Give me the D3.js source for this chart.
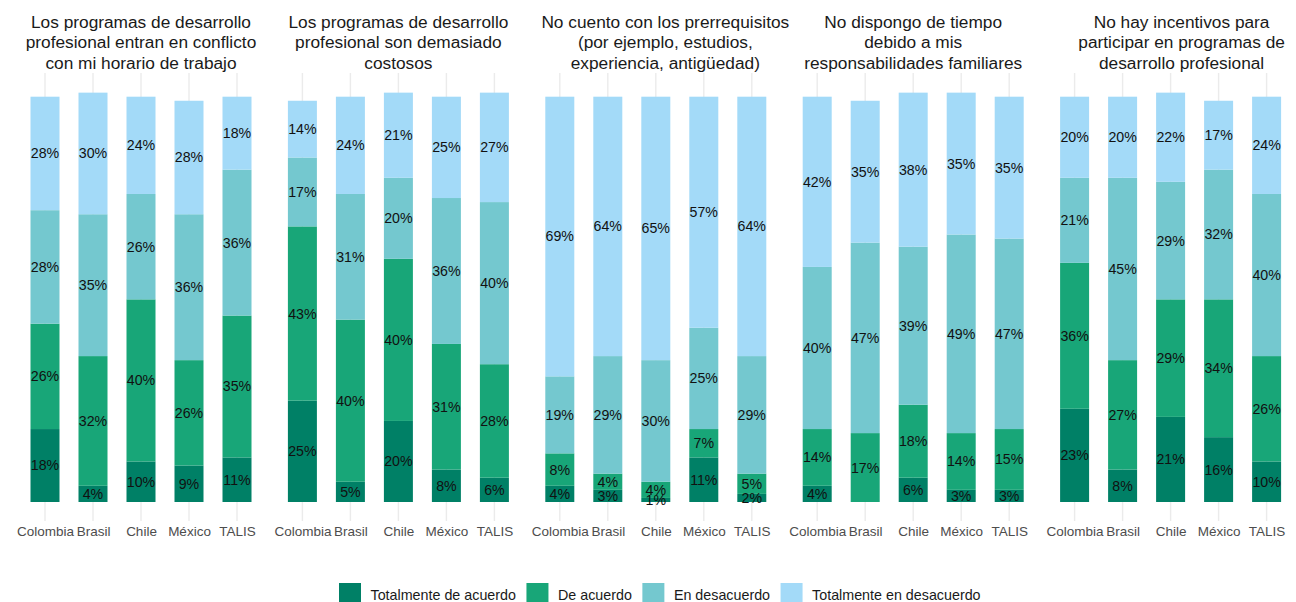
<!DOCTYPE html>
<html>
<head>
<meta charset="utf-8">
<script src="https://cdn.jsdelivr.net/npm/d3@7"></script>
<style>
  body { margin: 0; background: #fff; }
  svg { display: block; }
  text { font-family: "Liberation Sans", Arial, Helvetica, sans-serif; }
</style>
</head>
<body>
<svg id="chart" width="1296" height="602"></svg>
<script>
// Countries on each panel's x axis
const countries = ["Colombia", "Brasil", "Chile", "México", "TALIS"];

// Response categories, stacked bottom to top
const responses = ["Totalmente de acuerdo", "De acuerdo", "En desacuerdo", "Totalmente en desacuerdo"];
const responseColors = ["#008066", "#18a678", "#74c8cf", "#a3daf8"];

// Panel titles (one array of lines per barrier)
const titles = [
  ["Los programas de desarrollo", "profesional entran en conflicto", "con mi horario de trabajo"],
  ["Los programas de desarrollo", "profesional son demasiado", "costosos"],
  ["No cuento con los prerrequisitos", "(por ejemplo, estudios,", "experiencia, antigüedad)"],
  ["No dispongo de tiempo", "debido a mis", "responsabilidades familiares"],
  ["No hay incentivos para", "participar en programas de", "desarrollo profesional"]
];

// Percentages: one row per response, one column per country
const conflictoHorario = [
  [18, 4, 10, 9, 11],
  [26, 32, 40, 26, 35],
  [28, 35, 26, 36, 36],
  [28, 30, 24, 28, 18]
];
const demasiadoCostosos = [
  [25, 5, 20, 8, 6],
  [43, 40, 40, 31, 28],
  [17, 31, 20, 36, 40],
  [14, 24, 21, 25, 27]
];
const sinPrerrequisitos = [
  [4, 3, 1, 11, 2],
  [8, 4, 4, 7, 5],
  [19, 29, 30, 25, 29],
  [69, 64, 65, 57, 64]
];
const responsabilidadesFamiliares = [
  [4, 0, 6, 3, 3],
  [14, 17, 18, 14, 15],
  [40, 47, 39, 49, 47],
  [42, 35, 38, 35, 35]
];
const sinIncentivos = [
  [23, 8, 21, 16, 10],
  [36, 27, 29, 34, 26],
  [21, 45, 29, 32, 40],
  [20, 20, 22, 17, 24]
];
const panelValues = [conflictoHorario, demasiadoCostosos, sinPrerrequisitos, responsabilidadesFamiliares, sinIncentivos];

// Layout
const panelLeft = 16.2, panelStep = 257.4, panelWidth = 249.6;
const panelTop = 73, panelBottom = 521;
const barWidth = 29;
const titleNudge = [0, 0, 9.5, 0, 11];

const svg = d3.select("#chart");

const y = d3.scaleLinear().domain([0, 100]).range([502, 96.7]);
const stack = d3.stack().keys(responses);

panelValues.forEach((values, p) => {
  const x0 = panelLeft + p * panelStep;
  const x = d3.scalePoint().domain(countries).range([x0, x0 + panelWidth]).padding(0.6);
  const g = svg.append("g");

  // vertical grid lines at each country
  g.selectAll("line.grid").data(countries).join("line")
    .attr("x1", d => x(d)).attr("x2", d => x(d))
    .attr("y1", panelTop).attr("y2", panelBottom)
    .attr("stroke", "#ebebeb").attr("stroke-width", 1.4);

  // table of rows by country
  const rows = countries.map((c, i) => {
    const r = { country: c };
    responses.forEach((k, j) => { r[k] = values[j][i]; });
    return r;
  });
  const series = stack(rows);

  const layer = g.selectAll("g.layer").data(series).join("g")
    .attr("fill", (d, i) => responseColors[i]);

  layer.selectAll("rect").data(d => d.filter(s => s[1] - s[0] > 0)).join("rect")
    .attr("x", d => x(d.data.country) - barWidth / 2)
    .attr("width", barWidth)
    .attr("y", d => y(d[1]))
    .attr("height", d => y(d[0]) - y(d[1]));

  // value labels centred in each segment
  series.forEach(s => {
    g.selectAll(null).data(s.filter(d => d[1] - d[0] > 0)).join("text")
      .attr("x", d => x(d.data.country))
      .attr("y", d => y((d[0] + d[1]) / 2))
      .attr("dy", "0.35em")
      .attr("text-anchor", "middle")
      .attr("font-size", 14.2)
      .attr("fill", "#111")
      .text(d => (d[1] - d[0]) + "%");
  });

  // x axis labels
  const axis = d3.axisBottom(x).tickSize(0).tickPadding(0);
  const ax = g.append("g").attr("transform", "translate(0,536)").call(axis);
  ax.select(".domain").remove();
  ax.selectAll("text")
    .attr("dy", 0).attr("y", 0)
    .attr("font-size", 13.5)
    .attr("fill", "#4d4d4d")
    .style("font-family", '"Liberation Sans", Arial, Helvetica, sans-serif');

  // panel title
  const cx = x0 + panelWidth / 2 + titleNudge[p];
  g.append("text")
    .attr("text-anchor", "middle")
    .attr("font-size", 17.3)
    .attr("fill", "#1a1a1a")
    .selectAll("tspan").data(titles[p]).join("tspan")
    .attr("x", cx)
    .attr("y", (d, i) => 27.8 + i * 20.5)
    .text(d => d);
});

// legend
const legend = svg.append("g");
let lx = 339;
responses.forEach((r, i) => {
  legend.append("rect")
    .attr("x", lx).attr("y", 583).attr("width", 22).attr("height", 22)
    .attr("fill", responseColors[i]);
  const t = legend.append("text")
    .attr("x", lx + 31.5).attr("y", 600)
    .attr("font-size", 14.3).attr("fill", "#1a1a1a")
    .text(r);
  lx += 31.5 + t.node().getComputedTextLength() + 10.5;
});
</script>
</body>
</html>
